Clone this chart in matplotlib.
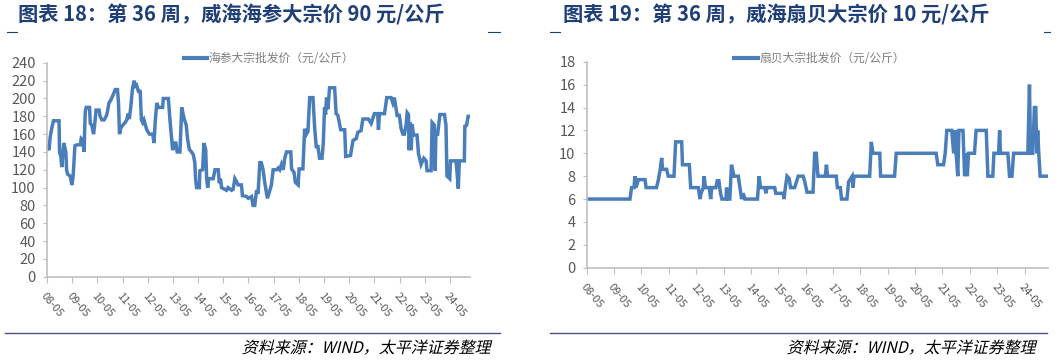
import matplotlib
matplotlib.use("Agg")
import matplotlib.pyplot as plt
from matplotlib.lines import Line2D
from matplotlib.textpath import TextPath
from matplotlib.font_manager import FontProperties
from matplotlib.patches import PathPatch
from matplotlib.transforms import Affine2D

plt.rcParams['font.family'] = ['Liberation Sans Narrow', 'Noto Sans CJK SC', 'DejaVu Sans']

# x: years since first tick (08-05)
tick_labels = ['%02d-05' % y for y in range(8, 25)]

t_sea = [0.00, 0.08, 0.13, 0.20, 0.26, 0.48, 0.50, 0.55, 0.59, 0.63, 0.67, 0.71, 0.75, 0.78, 0.82,
         0.92, 0.99, 1.04, 1.11, 1.19, 1.32, 1.36, 1.43, 1.47, 1.52, 1.56, 1.69, 1.72, 1.78, 1.85,
         1.90, 1.95, 2.07, 2.11, 2.18, 2.27, 2.35, 2.40, 2.46, 2.55, 2.64, 2.71, 2.80, 2.84, 2.88,
         2.93, 3.01, 3.10, 3.17, 3.22, 3.27, 3.33, 3.39, 3.46, 3.51, 3.56, 3.63, 3.70, 3.75, 3.80,
         3.85, 3.91, 3.96, 4.07, 4.20, 4.25, 4.30, 4.36, 4.42, 4.59, 4.62, 4.82, 4.88, 4.95, 4.99,
         5.04, 5.12, 5.17, 5.28, 5.35, 5.41, 5.46, 5.53, 5.58, 5.65, 5.74, 5.81, 5.87, 5.90, 5.94,
         6.05, 6.07, 6.18, 6.23, 6.30, 6.34, 6.38, 6.42, 6.60, 6.67, 6.80, 6.84, 6.89, 6.93, 7.13,
         7.19, 7.33, 7.39, 7.46, 7.52, 7.59, 7.72, 7.76, 7.92, 7.99, 8.12, 8.18, 8.25, 8.32, 8.38,
         8.45, 8.51, 8.58, 8.65, 8.75, 8.85, 8.91, 8.98, 9.11, 9.18, 9.24, 9.31, 9.38, 9.44, 9.51,
         9.68, 9.71, 9.81, 9.86, 9.97, 10.01, 10.16, 10.23, 10.30, 10.36, 10.43, 10.56, 10.63, 10.69,
         10.76, 10.82, 10.92, 10.97, 11.02, 11.06, 11.10, 11.15, 11.22, 11.42, 11.48, 11.55, 11.66,
         11.82, 11.86, 12.05, 12.15, 12.28, 12.34, 12.47, 12.54, 12.76, 12.87, 13.00, 13.13, 13.16,
         13.20, 13.40, 13.49, 13.66, 13.73, 13.79, 13.86, 13.90, 13.99, 14.06, 14.13, 14.19, 14.26,
         14.30, 14.35, 14.38, 14.42, 14.46, 14.50, 14.55, 14.69, 14.75, 14.85, 14.96, 15.05, 15.09,
         15.25, 15.29, 15.38, 15.41, 15.44, 15.51, 15.60, 15.78, 15.84, 15.88, 15.99, 16.02, 16.24,
         16.33, 16.37, 16.57, 16.59, 16.66, 16.72, 16.79]
sea_cucumber = [147, 142, 157, 168, 175, 175, 140, 135, 123, 138, 150, 145, 140, 120, 115,
                113, 103, 113, 147, 148, 148, 155, 153, 140, 185, 190, 190, 172, 170, 160,
                172, 187, 187, 180, 176, 176, 180, 185, 195, 199, 205, 210, 210, 195, 160,
                167, 170, 173, 176, 183, 177, 191, 210, 220, 214, 215, 208, 208, 176, 173,
                176, 170, 165, 160, 160, 150, 175, 195, 190, 190, 200, 200, 177, 155, 142,
                150, 150, 140, 140, 190, 182, 176, 170, 155, 143, 140, 137, 128, 110, 100,
                100, 119, 120, 150, 143, 110, 100, 110, 110, 120, 120, 105, 110, 100, 97,
                100, 97, 98, 110, 107, 103, 103, 91, 90, 88, 90, 80, 80, 97, 93,
                128, 128, 120, 105, 88, 97, 103, 120, 120, 122, 120, 126, 120, 133, 140,
                140, 121, 117, 106, 103, 121, 121, 166, 160, 163, 201, 201, 166, 146,
                146, 133, 133, 150, 190, 182, 201, 188, 212, 212, 183, 181, 165,
                165, 135, 136, 153, 155, 162, 164, 177, 177, 172, 183, 183, 165,
                183, 183, 201, 201, 195, 201, 188, 181, 181, 166, 160, 160, 171,
                184, 182, 142, 173, 142, 171, 159, 159, 138, 126, 133, 130, 119,
                119, 173, 170, 119, 160, 160, 182, 182, 170, 113, 110, 130, 130,
                99, 130, 130, 169, 170, 180, 180]

t_scallop = [0.00, 1.58, 1.64, 1.73, 1.76, 1.80, 1.89, 2.13, 2.17, 2.55, 2.62, 2.68, 2.74, 2.77,
             2.92, 2.98, 3.19, 3.25, 3.47, 3.50, 3.75, 3.80, 4.08, 4.14, 4.18, 4.26, 4.29, 4.34,
             4.48, 4.53, 4.57, 4.72, 4.77, 4.83, 4.89, 4.94, 5.09, 5.11, 5.16, 5.23, 5.29, 5.38,
             5.54, 5.60, 5.66, 5.72, 5.78, 6.24, 6.30, 6.35, 6.51, 6.55, 6.59, 6.87, 6.91, 7.18,
             7.21, 7.26, 7.32, 7.40, 7.45, 7.60, 7.73, 7.91, 7.97, 8.05, 8.27, 8.33, 8.39, 8.45,
             8.72, 8.76, 8.80, 9.12, 9.16, 9.27, 9.31, 9.51, 9.57, 9.70, 9.73, 9.77, 10.34, 10.40,
             10.46, 10.71, 10.74, 11.25, 11.31, 12.77, 12.83, 13.04, 13.10, 13.16, 13.34, 13.41,
             13.47, 13.50, 13.56, 13.60, 13.75, 13.81, 13.87, 13.91, 13.95, 14.17, 14.23, 14.60,
             14.66, 14.84, 14.88, 15.05, 15.09, 15.12, 15.39, 15.45, 15.54, 15.60, 16.12, 16.18,
             16.22, 16.30, 16.36, 16.41, 16.45, 16.48, 16.52, 16.57, 16.85]
scallop = [6, 6, 7, 7, 8, 7, 7.7, 7.7, 7, 7, 7.7, 8.5, 9.6, 8.6,
           8.6, 8, 8, 11, 11, 9, 9, 7, 7, 6, 6.5, 7, 8, 7,
           7, 6, 7, 7, 7.6, 7.6, 6.5, 6, 6, 7, 6, 6, 9, 8,
           8, 7, 6, 6.5, 6, 6, 8, 7, 7, 6.5, 7, 7, 6.5, 6.5,
           6, 7, 8, 7.8, 7, 7, 8, 8, 7.5, 6.6, 6.6, 10, 10, 8,
           8, 9, 8, 8, 7, 7, 6, 6, 7.5, 8, 7, 8, 8, 11,
           10, 10, 8, 8, 10, 10, 9, 9, 10, 12, 12, 10,
           12, 10, 8, 12, 12, 8, 10, 8, 10, 10, 12, 12,
           8, 8, 10, 10, 12, 10, 10, 8, 8, 10, 10, 16,
           10, 10, 14, 14, 10, 12, 10, 8, 8]

LINE = '#4a7ebb'
GRAY = '#595959'
AXIS = '#bfbfbf'
NAVY = '#1f3f77'
DPI = 100

fig = plt.figure(figsize=(10.6, 3.6), dpi=DPI)


def panel(rect, x, y, ylim, ystep, xmax, legend_text, legend_x):
    ax = fig.add_axes(rect)
    ax.plot(x, y, color=LINE, lw=2.5, solid_joinstyle='miter')
    ax.set_xlim(0, xmax)
    ax.set_ylim(0, ylim)
    ax.set_yticks(range(0, ylim + 1, ystep))
    ax.set_xticks(range(17))
    ax.set_xticklabels(tick_labels, rotation=-50, ha='left', va='top',
                       rotation_mode='anchor', fontsize=8, color=GRAY)
    ax.tick_params(axis='y', labelsize=10.5, colors=GRAY, length=3, color=AXIS, pad=5)
    ax.tick_params(axis='x', length=4, color=AXIS, pad=6)
    for s in ['top', 'right']:
        ax.spines[s].set_visible(False)
    for s in ['left', 'bottom']:
        ax.spines[s].set_color(AXIS)
        ax.spines[s].set_linewidth(1.2)
    h = Line2D([], [], color=LINE, lw=3)
    leg = ax.legend([h], [legend_text], loc='upper center', bbox_to_anchor=(legend_x, 1.1),
                    frameon=False, handlelength=2.0, handletextpad=0.1,
                    prop={'family': ['Noto Sans CJK SC'], 'size': 8.5})
    for txt in leg.get_texts():
        txt.set_color('#7f7f7f')
    return ax


panel([0.0443, 0.2314, 0.399, 0.594], t_sea, sea_cucumber, 240, 20, 16.79,
      '海参大宗批发价（元/公斤）', 0.525)
panel([0.5535, 0.2564, 0.435, 0.572], t_scallop, scallop, 18, 2, 16.85,
      '扇贝大宗批发价（元/公斤）', 0.505)

title_font = {'family': ['Noto Sans CJK SC'], 'size': 14.6, 'weight': 'bold', 'color': NAVY}
fig.text(18 / 1060, 1 - 15 / 360, '图表 18：第 36 周，威海海参大宗价 90 元/公斤',
         va='center', ha='left', **title_font)
fig.text(563 / 1060, 1 - 15 / 360, '图表 19：第 36 周，威海扇贝大宗价 10 元/公斤',
         va='center', ha='left', **title_font)

# small table marks under titles
for x0, x1 in [(7, 17), (488, 500), (550, 560), (1044, 1050)]:
    fig.add_artist(Line2D([x0 / 1060, x1 / 1060], [1 - 32 / 360] * 2, color=NAVY, lw=0.8))

# source lines
for x0, x1 in [(5, 500), (550, 1047)]:
    fig.add_artist(Line2D([x0 / 1060, x1 / 1060], [1 - 333 / 360] * 2, color='#4b4f8a', lw=1.0))


def slanted_text(s, x_right, y_base, size):
    # CJK fonts have no italic, so shear the glyph outlines instead
    fp = FontProperties(family='Noto Sans CJK SC', size=size)
    tp = TextPath((0, 0), s, prop=fp)
    k = DPI / 72
    w = tp.get_extents().x1 * k
    tr = Affine2D().scale(k).skew_deg(14, 0).translate(x_right - w, 360 - y_base)
    fig.add_artist(PathPatch(tp, transform=tr, facecolor='black', edgecolor='none'))


slanted_text('资料来源：WIND，太平洋证券整理', 490, 353, 11.5)
slanted_text('资料来源：WIND，太平洋证券整理', 1035, 353, 11.5)

fig.savefig('out.png', dpi=DPI)
